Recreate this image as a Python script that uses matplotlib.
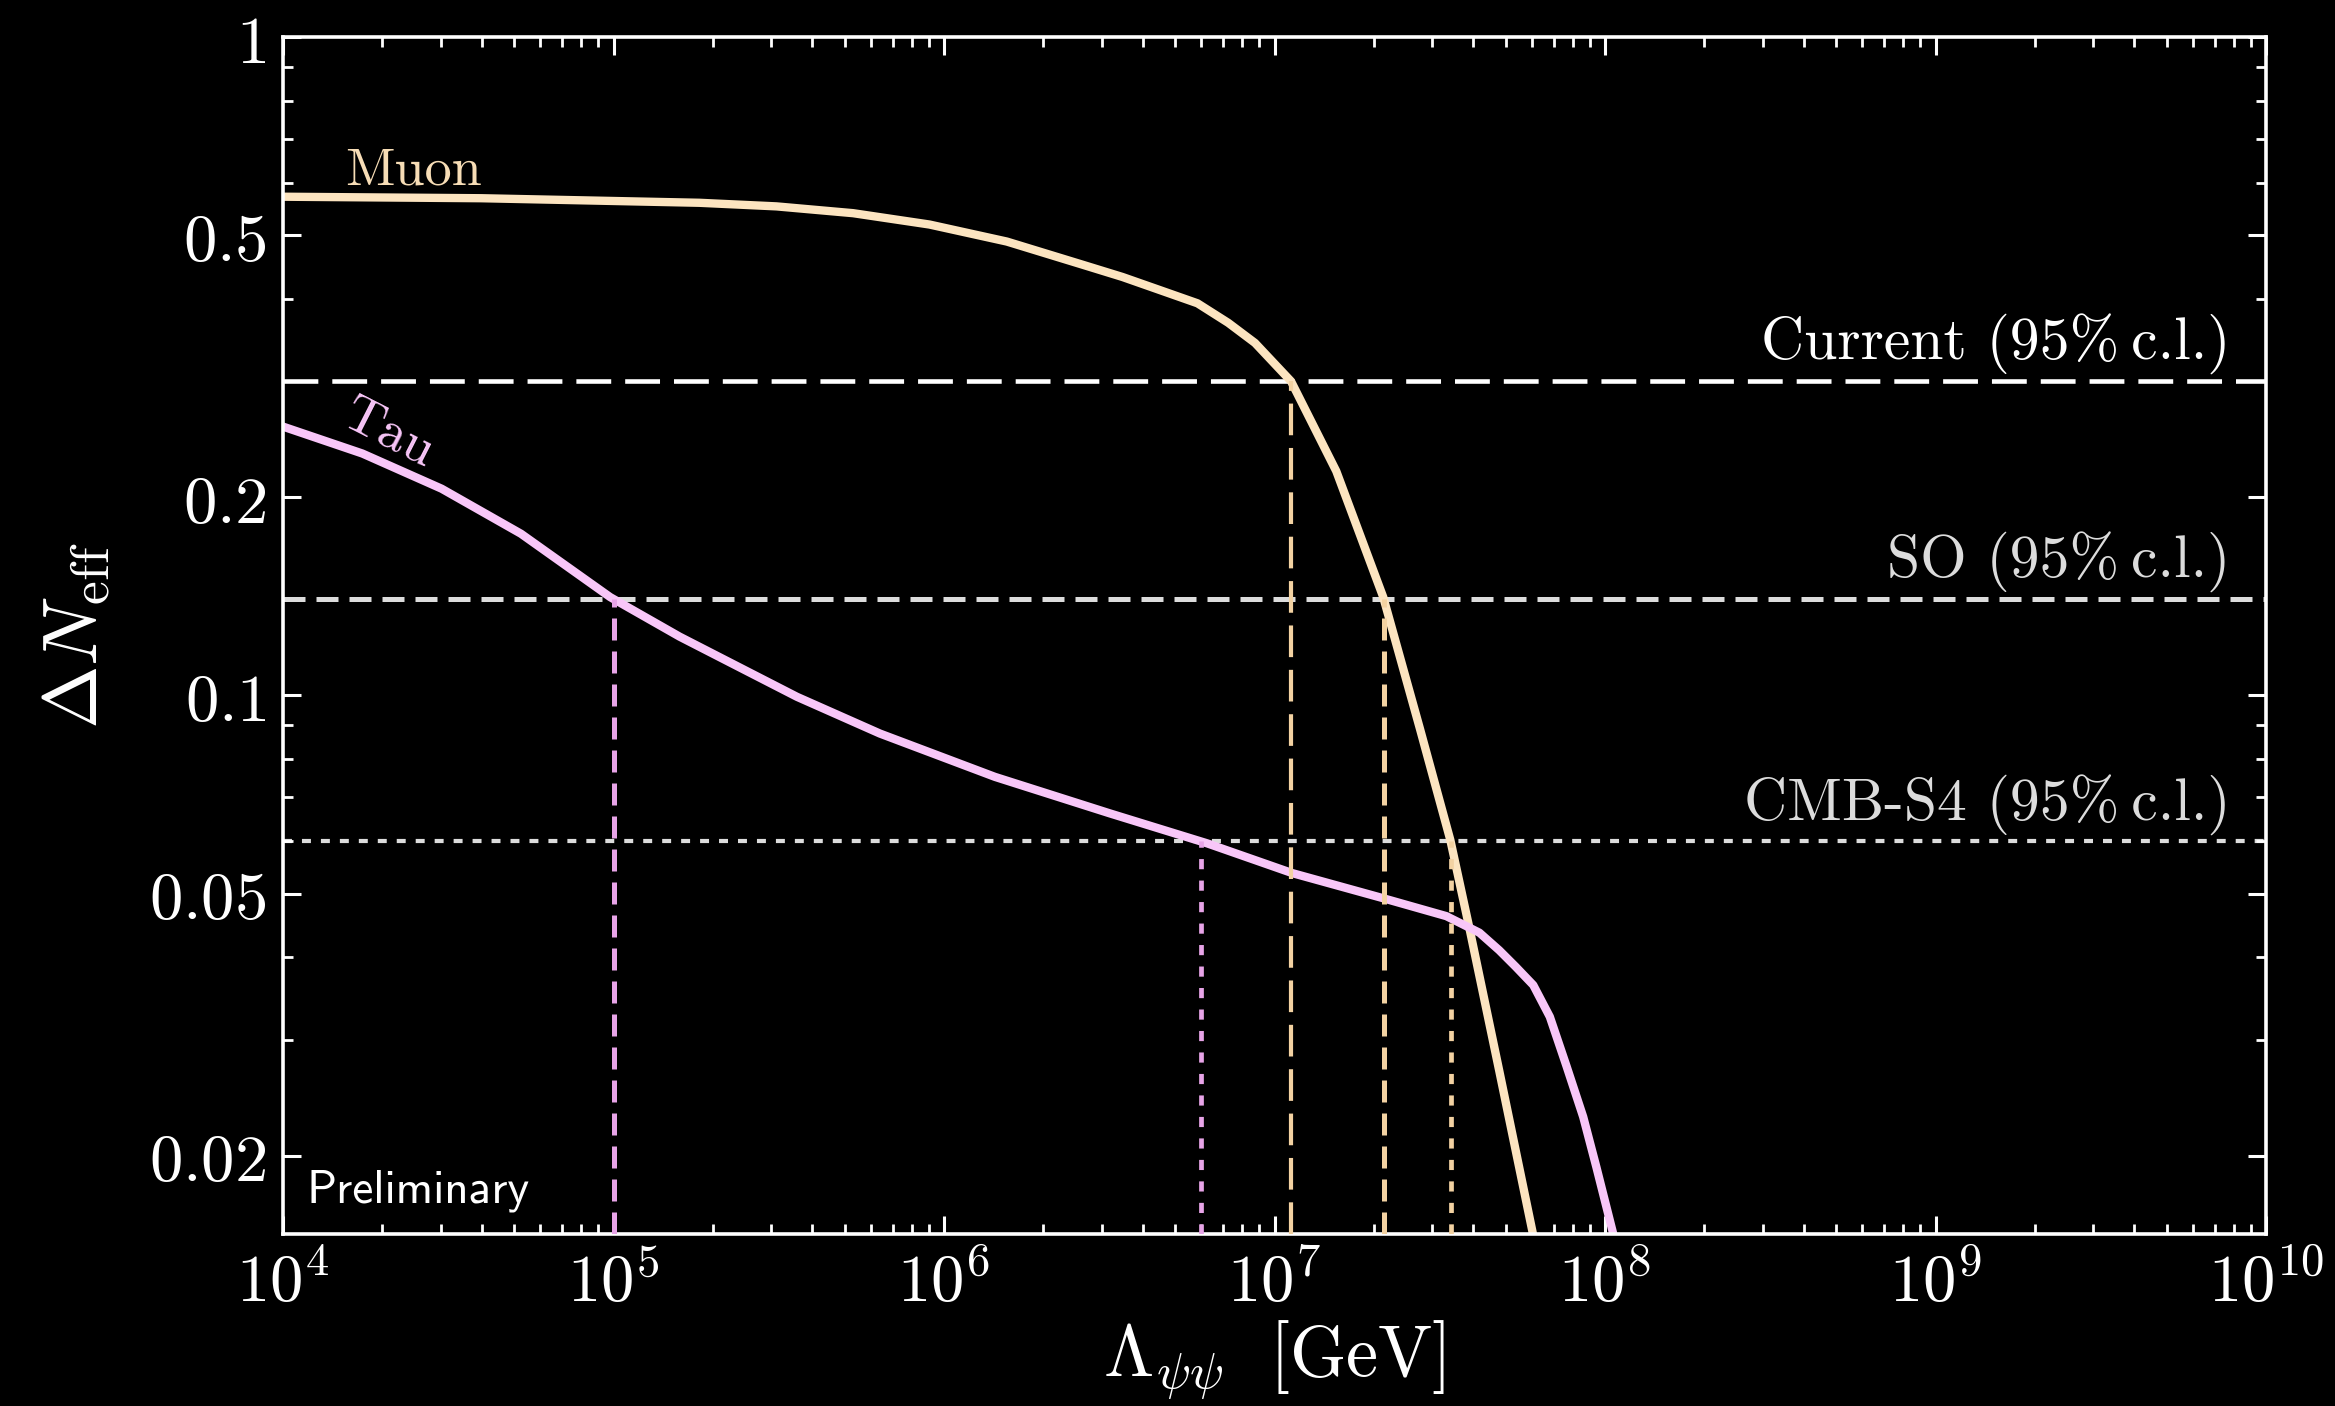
import numpy as np
import matplotlib
matplotlib.use("Agg")
import matplotlib.pyplot as plt
from matplotlib.ticker import FixedLocator, LogLocator, NullFormatter, FixedFormatter

plt.rcParams['mathtext.fontset'] = 'cm'
plt.rcParams['font.family'] = ['DejaVu Serif']

# ---------------- data ----------------
muon_logx = [4.0, 4.6, 5.26, 5.493, 5.725, 5.956, 6.19, 6.419, 6.54, 6.651, 6.767,
             6.86, 6.941, 7.05, 7.114, 7.187, 7.329, 7.44, 7.532, 7.591, 7.68, 7.782]
muon_y = [0.572, 0.569, 0.560, 0.553, 0.540, 0.519, 0.489, 0.451, 0.432, 0.413, 0.394,
          0.368, 0.343, 0.300, 0.259, 0.219, 0.141, 0.089, 0.0603, 0.044, 0.0269, 0.0152]

tau_logx = [4.0, 4.24, 4.48, 4.72, 4.99, 5.20, 5.555, 5.806, 6.154, 6.501, 6.796,
            7.054, 7.328, 7.52, 7.62, 7.68, 7.73, 7.783, 7.833, 7.884, 7.934,
            7.974, 8.025]
tau_y = [0.256, 0.233, 0.206, 0.176, 0.141, 0.1228, 0.0995, 0.0875, 0.0752,
         0.0662, 0.0596, 0.0537, 0.0492, 0.0462, 0.0436, 0.0410, 0.0387, 0.0363,
         0.0325, 0.0273, 0.0229, 0.0192, 0.0152]

limit_names = ['Current (95%\u2009c.l.)', 'SO (95%\u2009c.l.)', 'CMB-S4 (95%\u2009c.l.)']
limit_values = [0.3, 0.14, 0.06]

xticks = [1e4, 1e5, 1e6, 1e7, 1e8, 1e9, 1e10]
xticklabels = [r'$10^{4}$', r'$10^{5}$', r'$10^{6}$', r'$10^{7}$',
               r'$10^{8}$', r'$10^{9}$', r'$10^{10}$']
yticks = [0.02, 0.05, 0.1, 0.2, 0.5, 1.0]
yticklabels = [r'$0.02$', r'$0.05$', r'$0.1$', r'$0.2$', r'$0.5$', r'$1$']

# ---------------- styles ----------------
muon_color = '#FCE4C0'
tau_color = '#F8C6F8'
muon_vcolor = '#F3D2A2'
tau_vcolor = '#E8A4E8'
limit_colors = ['#FFFFFF', '#DCDCDC', '#DCDCDC']
limit_lw = [3.3, 3.6, 3.0]
limit_ls = [(0, (7.6, 3.05)), (0, (4.4, 2.2)), (0, (2.15, 2.4))]
vline_lw = [3.0, 3.6, 3.4]

ylo, yhi = 0.0152, 1.0

fig = plt.figure(figsize=(23.35, 14.06), dpi=100, facecolor='black')
ax = fig.add_axes([283/2335, 1-1234/1406, (2266-283)/2335, (1234-37)/1406])
ax.set_facecolor('black')
ax.set_xscale('log')
ax.set_yscale('log')
ax.set_xlim(1e4, 1e10)
ax.set_ylim(ylo, yhi)

mx = 10**np.array(muon_logx)
my = np.array(muon_y)
tx = 10**np.array(tau_logx)
ty = np.array(tau_y)

# horizontal limits
for v, c, lw, ls in zip(limit_values, limit_colors, limit_lw, limit_ls):
    ax.axhline(v, color=c, lw=lw, ls=ls, zorder=1)

# curves
ax.plot(mx, my, color=muon_color, lw=6, zorder=2, solid_joinstyle='round')
ax.plot(tx, ty, color=tau_color, lw=6, zorder=2, solid_joinstyle='round')

# vertical drop lines at crossings
def crossing(x, y, level):
    lx = np.log10(x)[::-1]
    ly = np.log10(y)[::-1]
    if level > y.max():
        return None
    return 10**np.interp(np.log10(level), ly, lx)

for (x, y, vc) in [(mx, my, muon_vcolor), (tx, ty, tau_vcolor)]:
    for v, lw, ls in zip(limit_values, vline_lw, limit_ls):
        xc = crossing(x, y, v)
        if xc is None:
            continue
        ax.plot([xc, xc], [ylo, v], color=vc, lw=lw, ls=ls, zorder=3)

# limit labels
for name, v, c in zip(limit_names, limit_values, limit_colors):
    ax.text(0.982, v * 1.08, name, transform=ax.get_yaxis_transform(),
            ha='right', va='baseline', color=c, fontsize=43,
            family=['cmr10', 'DejaVu Serif'])

# curve labels
ax.text(1.546e4, 0.577, 'Muon', color='#F7DDB6', fontsize=39, family='cmr10',
        ha='left', va='bottom')
ax.text(1.43e4, 0.2507, 'Tau', color=tau_color, fontsize=39, family='cmr10',
        ha='left', va='bottom', rotation=-27, rotation_mode='anchor')

ax.text(0.012, 0.018, 'Preliminary', transform=ax.transAxes, color='white',
        fontsize=34, family='cmss10', ha='left', va='bottom')

# ticks
ax.xaxis.set_major_locator(FixedLocator(xticks))
ax.xaxis.set_major_formatter(FixedFormatter(xticklabels))
ax.xaxis.set_minor_locator(LogLocator(base=10, subs=np.arange(2, 10), numticks=50))
ax.xaxis.set_minor_formatter(NullFormatter())
ax.yaxis.set_major_locator(FixedLocator(yticks))
ax.yaxis.set_major_formatter(FixedFormatter(yticklabels))
ax.yaxis.set_minor_locator(LogLocator(base=10, subs=np.arange(1, 10), numticks=50))
ax.yaxis.set_minor_formatter(NullFormatter())

ax.tick_params(which='both', direction='in', top=True, right=True, colors='white')
ax.tick_params(which='major', length=13, width=2.2, labelsize=48, pad=12)
ax.tick_params(which='minor', length=7, width=2.0)
ax.tick_params(axis='x', which='major', pad=12)
for s in ax.spines.values():
    s.set_color('white')
    s.set_linewidth(2.6)

ax.set_xlabel(r'$\Lambda_{\psi\psi}\ \ [\mathrm{GeV}]$', color='white', fontsize=52, labelpad=2)
ax.set_ylabel(r'$\Delta N_{\mathrm{eff}}$', color='white', fontsize=55, labelpad=26)

fig.savefig('out.png', dpi=100, facecolor='black')
